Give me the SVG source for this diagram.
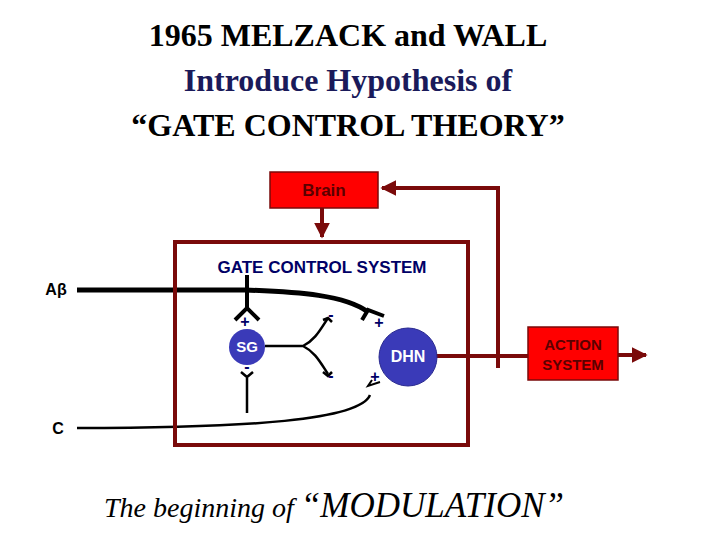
<svg xmlns="http://www.w3.org/2000/svg" width="720" height="540" viewBox="0 0 720 540">
<style>
.t{font-family:"Liberation Serif",serif;font-weight:bold;font-size:32px;text-anchor:middle}
.s{font-family:"Liberation Sans",sans-serif;font-weight:bold}
.dr{stroke:#7a0a0a;fill:none;stroke-width:4}
.n{stroke:#000;fill:none;stroke-width:2.5}
</style>
<defs>
<marker id="a" viewBox="0 0 10 10" refX="9" refY="5" markerWidth="4" markerHeight="4" orient="auto"><path d="M0,0L10,5L0,10z" fill="#7a0a0a"/></marker>
</defs>
<rect width="720" height="540" fill="#fff"/>
<text class="t" x="348" y="46" fill="#000">1965 MELZACK and WALL</text>
<text class="t" x="348" y="91" fill="#1a1a5a">Introduce Hypothesis of</text>
<text class="t" x="348" y="136" fill="#000">“GATE CONTROL THEORY”</text>
<g id="connectors">
<path class="dr" d="M322,208V237" marker-end="url(#a)"/>
<path class="dr" d="M436,356H528"/>
<path class="dr" d="M498,368V188H382" marker-end="url(#a)"/>
<path class="dr" d="M618,355H646" marker-end="url(#a)"/>
<path d="M77,290H245C300,292 345,295 368,312" stroke="#000" stroke-width="5" fill="none"/>
<path d="M362,320L368,310L384,316" stroke="#000" stroke-width="4" fill="none"/>
<path d="M247,275V308M235,320L247,308L259,320" stroke="#000" stroke-width="4" fill="none"/>
<path class="n" d="M265,346H303C315,340 320,330 328,318M303,346C315,352 320,362 328,374"/>
<path class="n" d="M323,320L328,318L332,322M323,372L328,376L332,372"/>
<path class="n" d="M247,413V378M241,372L247,377L253,372"/>
<path class="n" d="M77,428C250,428 360,420 370,395"/>
<path d="M372,380L368,386L380,382" stroke="#000" stroke-width="2" fill="none"/>
</g>
<g id="gate"><rect x="175" y="242" width="293" height="203" class="dr"/>
<text class="s" x="322" y="273" font-size="17" fill="#000066" text-anchor="middle">GATE CONTROL SYSTEM</text></g>
<g id="brain"><rect x="270" y="172" width="108" height="36" fill="#ff0000" stroke="#7a0a0a" stroke-width="1.5"/>
<text class="s" x="324" y="196" font-size="17" fill="#5a0000" text-anchor="middle">Brain</text></g>
<g id="action"><rect x="528" y="327" width="90" height="53" fill="#ff0000" stroke="#7a0a0a" stroke-width="1.5"/>
<text class="s" x="573" y="350" font-size="15" fill="#5a0000" text-anchor="middle">ACTION</text>
<text class="s" x="573" y="370" font-size="15" fill="#5a0000" text-anchor="middle">SYSTEM</text></g>
<g id="sg"><circle cx="247" cy="347" r="18" fill="#3a3ab8"/>
<text class="s" x="247" y="352" font-size="15" fill="#fff" text-anchor="middle">SG</text></g>
<g id="dhn"><circle cx="408" cy="357" r="29" fill="#3a3ab8" stroke="#2a2a90"/>
<text class="s" x="408" y="362" font-size="16" fill="#fff" text-anchor="middle">DHN</text></g>
<g id="labels" class="s" fill="#000066" font-size="16" text-anchor="middle">
<text x="245" y="327">+</text><text x="331" y="320">-</text><text x="331" y="381">-</text><text x="247" y="372">-</text>
<text x="379" y="328">+</text><text x="375" y="382">+</text>
</g>
<text class="s" x="56" y="295" font-size="16" fill="#000" text-anchor="middle">Aβ</text>
<text class="s" x="58" y="434" font-size="16" fill="#000" text-anchor="middle">C</text>
<text x="334" y="517" font-family="Liberation Serif,serif" font-style="italic" text-anchor="middle" fill="#000"><tspan font-size="28">The beginning of </tspan><tspan font-size="35">“MODULATION”</tspan></text>
</svg>
